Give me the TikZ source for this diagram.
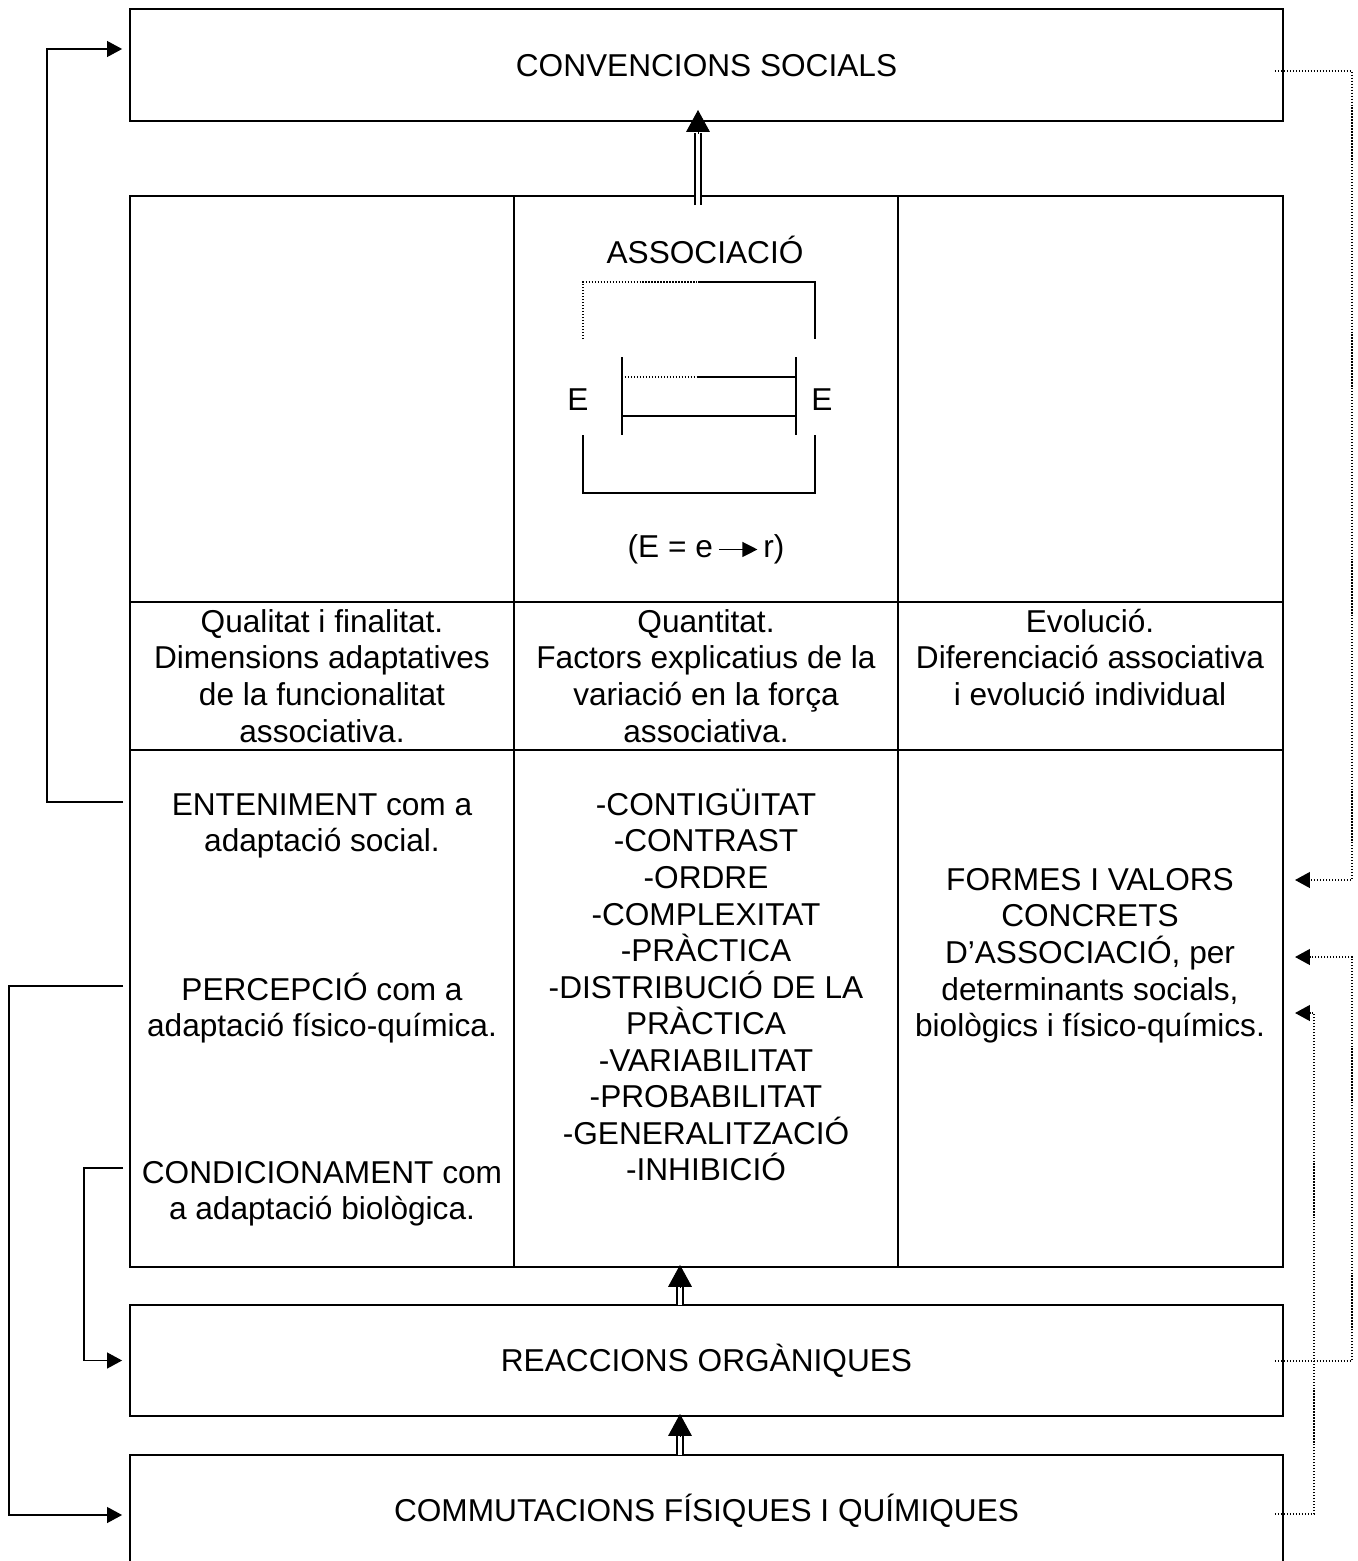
\documentclass[tikz,border=0pt]{standalone}
\usepackage{fontspec}
\setmainfont{Liberation Sans}
\usepackage{tikz}
\usetikzlibrary{arrows.meta, calc}
\newcommand{\testo}{\fontsize{18}{20.8}\selectfont}
\newcommand{\alto}{\rule{0pt}{0.95em}}
\newcommand{\frecciaER}{%
\tikz[baseline=-0.45ex] \draw[line width=0.7pt, -{Triangle[length=8.5pt, width=8.5pt]}] (0pt,0pt) -- (22pt,0pt);%
}

\begin{document}
\begin{tikzpicture}[x=0.02cm, y=-0.02cm,
    scatola/.style={draw, line width=1.1pt, outer sep=0pt, inner sep=0pt, minimum width=23.06cm, font=\testo, text height=12.9pt, text depth=0pt},
    testo/.style={font=\testo, align=center, inner sep=0pt, anchor=north},
    riga/.style={font=\testo, inner sep=0pt, anchor=base},
    linea/.style={line width=1pt},
    bordo/.style={line width=1.1pt},
    puntino/.style={line width=1.1pt, dash pattern=on 0.7pt off 1pt},
    conn/.style={line width=0.75pt, -{Triangle[length=8.5pt, width=9pt]}},
    punt/.style={line width=1pt, dash pattern=on 0.7pt off 1pt, -{Triangle[length=8.5pt, width=9pt]}},
    doppia/.style={double, double distance=2pt, line width=1.1pt},
    punta/.style={line width=0.5pt, -{Triangle[length=12.5pt, width=13.5pt]}}]
    \useasboundingbox (0,0) rectangle (1357,1561);
    % Caixes
    \node[scatola, minimum height=2.24cm] (convencions) at (706.5,65) {CONVENCIONS SOCIALS};
    \node[scatola, minimum height=2.22cm] (reaccions) at (706.5,1360.5) {REACCIONS ORGÀNIQUES};
    \node[scatola, minimum height=2.2cm] (commutacions) at (706.5,1510) {COMMUTACIONS FÍSIQUES I QUÍMIQUES};
    \node[draw, bordo, outer sep=0pt, inner sep=0pt, minimum width=23.06cm, minimum height=21.42cm] (taula) at (706.5,731.5) {};
    % Taula
    \draw[bordo] (514,196) -- (514,1267);
    \draw[bordo] (898,196) -- (898,1267);
    \draw[bordo] (130,602) -- (1283,602);
    \draw[bordo] (130,750) -- (1283,750);
    % Associacio
    \node[riga] (associacio) at (705,263) {ASSOCIACIÓ};
    \draw[puntino] (583,339) -- (583,282) -- (698,282);
    \draw[linea] (698,282) -- (815,282) -- (815,339);
    \draw[linea] (622,357) -- (622,435);
    \draw[linea] (796,357) -- (796,435);
    \draw[puntino] (622,377) -- (698,377);
    \draw[linea] (698,377) -- (796,377);
    \draw[linea] (622,416) -- (796,416);
    \draw[linea] (583,435) -- (583,493) -- (815,493) -- (815,435);
    \node[riga] (e-esq) at (578,410) {E};
    \node[riga] (e-dre) at (822,410) {E};
    \node[riga] (formula) at (706,557) {(E = e\,\frecciaER\,r)};
    % Textos
    \node[testo] (qualitat) at (322,602) {\alto Qualitat i finalitat.\\Dimensions adaptatives\\de la funcionalitat\\associativa.};
    \node[testo] (quantitat) at (706,602) {\alto Quantitat.\\Factors explicatius de la\\variació en la força\\associativa.};
    \node[testo] (evolucio) at (1090,602) {\alto Evolució.\\Diferenciació associativa\\i evolució individual};
    \node[testo] (enteniment) at (322,785) {\alto ENTENIMENT com a\\adaptació social.};
    \node[testo] (percepcio) at (322,970) {\alto PERCEPCIÓ com a\\adaptació físico-química.};
    \node[testo] (condicionament) at (322,1153) {\alto CONDICIONAMENT com\\a adaptació biològica.};
    \node[testo] (factors) at (706,785) {\alto -CONTIGÜITAT\\-CONTRAST\\-ORDRE\\-COMPLEXITAT\\-PRÀCTICA\\-DISTRIBUCIÓ DE LA\\PRÀCTICA\\-VARIABILITAT\\-PROBABILITAT\\-GENERALITZACIÓ\\-INHIBICIÓ};
    \node[testo] (formes) at (1090,860) {\alto FORMES I VALORS\\CONCRETS\\D’ASSOCIACIÓ, per\\determinants socials,\\biològics i físico-químics.};
    % Fletxes dobles
    \draw[doppia] ($(taula.north)+(-8.5,9)$) -- ($(convencions.south)+(-8.5,12)$);
    \draw[punta] ($(convencions.south)+(-8.5,13)$) -- ($(convencions.south)+(-8.5,-11)$);
    \draw[doppia] ($(reaccions.north)+(-26.5,0)$) -- ($(taula.south)+(-26.5,20)$);
    \draw[punta] ($(taula.south)+(-26.5,21)$) -- ($(taula.south)+(-26.5,-2)$);
    \draw[doppia] ($(commutacions.north)+(-26.5,0)$) -- ($(reaccions.south)+(-26.5,20)$);
    \draw[punta] ($(reaccions.south)+(-26.5,21)$) -- ($(reaccions.south)+(-26.5,-2)$);
    % Connectors
    \coordinate (da-enteniment) at (123,802);
    \coordinate (da-percepcio) at (123,986);
    \coordinate (da-condicionament) at (123,1168);
    \coordinate (a-convencions) at ($(convencions.west)+(-8,-16)$);
    \coordinate (a-reaccions) at ($(reaccions.west)+(-8,0)$);
    \coordinate (a-commutacions) at ($(commutacions.west)+(-8,5)$);
    \draw[conn] (da-enteniment) -- ++(-76,0) |- (a-convencions);
    \draw[conn] (da-percepcio) -- ++(-114,0) |- (a-commutacions);
    \draw[conn] (da-condicionament) -- ++(-39,0) |- (a-reaccions);
    \coordinate (da-convencions) at ($(convencions.east)+(-8,6)$);
    \coordinate (da-reaccions) at ($(reaccions.east)+(-8,0.5)$);
    \coordinate (da-commutacions) at ($(commutacions.east)+(-8,4)$);
    \coordinate (formes-a) at (1295,880);
    \coordinate (formes-b) at (1295,957);
    \coordinate (formes-c) at (1295,1013);
    \draw[punt] (da-convencions) -- ++(77,0) |- (formes-a);
    \draw[punt] (da-reaccions) -- ++(77,0) |- (formes-b);
    \draw[punt] (da-commutacions) -- ++(39,0) |- (formes-c);
\end{tikzpicture}
\end{document}
